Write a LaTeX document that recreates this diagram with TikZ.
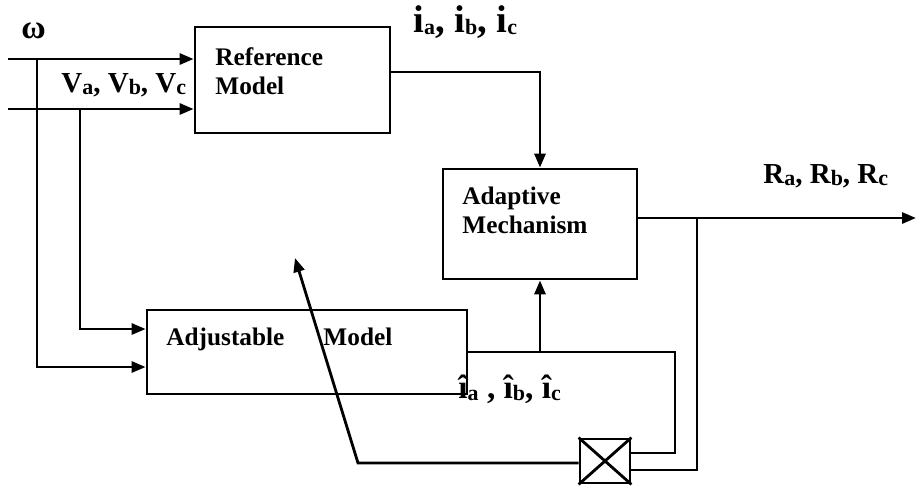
\documentclass[tikz,border=0pt]{standalone}
\usepackage{fontspec}
\setmainfont{Liberation Serif}
\usetikzlibrary{arrows.meta}
\newcommand{\lowsub}[1]{\raisebox{-0.15ex}{\fontsize{12.5}{12.5}\selectfont #1}}

\begin{document}
\begin{tikzpicture}[
x=0.02cm, y=-0.02cm,
line width=1.6pt,
block/.style={rectangle, draw, line width=1.6pt, inner sep=0pt},
blocktext/.style={inner sep=0pt, anchor=north west, align=left, font=\fontsize{14.4}{16.5}\selectfont\bfseries},
sig/.style={inner sep=0pt, anchor=base west, font=\fontsize{16.5}{18}\selectfont\bfseries},
bigsig/.style={sig, font=\fontsize{22}{24}\selectfont\bfseries},
hatsig/.style={sig, font=\fontsize{19}{21}\selectfont\bfseries},
arrow/.style={-{Triangle[length=0.28cm, width=0.22cm]}, line width=1.6pt}
]
\useasboundingbox (0,0) rectangle (916,485);

\node[block, minimum width=3.9cm, minimum height=2.12cm] (ref) at (292.5,80) {};
\node[block, minimum width=3.88cm, minimum height=2.2cm] (adapt) at (540,224) {};
\node[block, minimum width=6.4cm, minimum height=1.68cm] (adj) at (307,352) {};
\node[block, minimum width=1cm, minimum height=0.88cm] (mult) at (605,461) {};
\draw (mult.north west) -- (mult.south east) (mult.north east) -- (mult.south west);

\node[blocktext] (reftext) at (214,46) {Reference\\Model};
\node[blocktext] (adapttext) at (461,186) {Adaptive\\Mechanism};
\node[blocktext] (adjtext) at (165,327) {Adjustable\hspace{0.78cm}Model};

\node[sig, anchor=center, font=\fontsize{19}{21}\selectfont\bfseries] (omega) at (33.5,31) {ω};
\node[sig] (vlabel) at (60,92) {V\lowsub{a}, V\lowsub{b}, V\lowsub{c}};
\node[bigsig] (ilabel) at (412,32) {i\lowsub{a}, i\lowsub{b}, i\lowsub{c}};
\node[sig] (rlabel) at (762,183) {R\lowsub{a}, R\lowsub{b}, R\lowsub{c}};
\node[hatsig] (ihatlabel) at (457,398) {\^{\i}\lowsub{a} , \^{\i}\lowsub{b}, \^{\i}\lowsub{c}};

\coordinate (win) at (8,59);
\coordinate (vin) at (8,109);
\coordinate (wtap) at (37,59);
\coordinate (vtap) at (80,109);
\coordinate (wdown) at (37,367);
\coordinate (vdown) at (80,329);
\coordinate (iref) at (0,72);
\coordinate (rend) at (916,218);
\coordinate (rtap) at (697,218);
\coordinate (rlow) at (697,470);
\coordinate (ihat) at (675,352);
\coordinate (ihatlow) at (675,453);
\coordinate (fbcorner) at (358,463);
\coordinate (fbtip) at (295,258);

\draw[arrow] (win) -- (win -| ref.west);
\draw[arrow] (vin) -- (vin -| ref.west);
\draw[arrow] (wtap) -- (wdown) -- (wdown -| adj.west);
\draw[arrow] (vtap) -- (vdown) -- (vdown -| adj.west);
\draw[arrow] (ref.east |- iref) -| (adapt.north);
\draw[arrow] (adapt.east |- rend) -- (rend);
\draw (rtap) -- (rlow) -- (rlow -| mult.east);
\draw (adj.east |- ihat) -- (ihat) -- (ihatlow) -- (ihatlow -| mult.east);
\draw[arrow] (adapt.south |- ihat) -- (adapt.south);
\draw[arrow] (mult.west |- fbcorner) -- (fbcorner) -- (fbtip);

\end{tikzpicture}
\end{document}
